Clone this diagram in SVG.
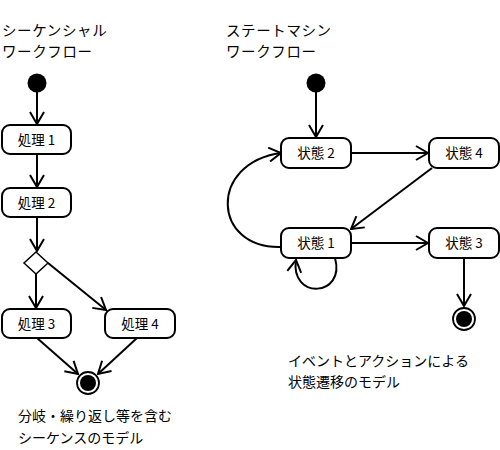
<svg xmlns="http://www.w3.org/2000/svg" width="500" height="450" viewBox="0 0 500 450">
<style>
.t{font-family:"Noto Sans CJK JP","Noto Sans",sans-serif;fill:#000}
.title{font-size:14.5px;letter-spacing:0.6px}
.cap{font-size:14px}
.lbl{font-size:13.5px;text-anchor:middle}
.box{fill:#fff;stroke:#000;stroke-width:2}
.ln{fill:none;stroke:#000;stroke-width:2;marker-end:url(#arr)}
</style>
<defs>
<marker id="arr" markerUnits="userSpaceOnUse" viewBox="0 0 14 16" refX="13" refY="8" markerWidth="14" markerHeight="16" orient="auto">
<path d="M1,1 L13,8 L1,15" fill="none" stroke="#000" stroke-width="2"/>
</marker>
</defs>
<rect width="500" height="450" fill="#fff"/>
<g id="titles">
<text class="t title" x="2" y="36">シーケンシャル</text>
<text class="t title" x="2" y="57">ワークフロー</text>
<text class="t title" x="226" y="36">ステートマシン</text>
<text class="t title" x="226" y="57">ワークフロー</text>
</g>
<g id="connectors">
<line class="ln" x1="37" y1="92" x2="37" y2="124"/>
<line class="ln" x1="37" y1="154" x2="37" y2="187"/>
<line class="ln" x1="37" y1="217" x2="37" y2="251"/>
<line class="ln" x1="36" y1="274" x2="36" y2="308"/>
<line class="ln" x1="48" y1="263" x2="106" y2="310"/>
<line class="ln" x1="37" y1="338" x2="78" y2="374"/>
<line class="ln" x1="137" y1="338" x2="98" y2="374"/>
<line class="ln" x1="316" y1="92" x2="316" y2="137"/>
<line class="ln" x1="351" y1="153" x2="428" y2="153"/>
<line class="ln" x1="432" y1="168" x2="351" y2="229"/>
<line class="ln" x1="351" y1="243" x2="428" y2="243"/>
<line class="ln" x1="464" y1="258" x2="464" y2="306"/>
<path class="ln" d="M281,247 C212,249 208,163 281,153"/>
<path class="ln" d="M335,258 C346,297 290,300 296,260"/>
</g>
<g id="start1"><circle cx="37" cy="83" r="9.5" fill="#000"/></g>
<g id="start2"><circle cx="316" cy="83" r="9.5" fill="#000"/></g>
<g id="p1"><rect class="box" x="2" y="125" width="69" height="29" rx="8"/><text class="t lbl" x="36.5" y="144.5">処理 1</text></g>
<g id="p2"><rect class="box" x="2" y="188" width="69" height="29" rx="8"/><text class="t lbl" x="36.5" y="207.5">処理 2</text></g>
<g id="decision"><polygon points="36,252 48,263 36,274 24,263" fill="#fff" stroke="#000" stroke-width="1.5"/></g>
<g id="p3"><rect class="box" x="2" y="309" width="69" height="29" rx="8"/><text class="t lbl" x="36.5" y="328.5">処理 3</text></g>
<g id="p4"><rect class="box" x="105" y="309" width="70" height="29" rx="8"/><text class="t lbl" x="140" y="328.5">処理 4</text></g>
<g id="end1"><circle cx="88" cy="383" r="11" fill="#fff" stroke="#000" stroke-width="1.8"/><circle cx="88" cy="383" r="8" fill="#000"/></g>
<g id="s2"><rect class="box" x="281" y="138" width="70" height="30" rx="8"/><text class="t lbl" x="316" y="158">状態 2</text></g>
<g id="s4"><rect class="box" x="429" y="138" width="70" height="30" rx="8"/><text class="t lbl" x="464" y="158">状態 4</text></g>
<g id="s1"><rect class="box" x="281" y="228" width="70" height="30" rx="8"/><text class="t lbl" x="316" y="248">状態 1</text></g>
<g id="s3"><rect class="box" x="429" y="228" width="70" height="30" rx="8"/><text class="t lbl" x="464" y="248">状態 3</text></g>
<g id="end2"><circle cx="464" cy="319" r="11" fill="#fff" stroke="#000" stroke-width="1.8"/><circle cx="464" cy="319" r="8" fill="#000"/></g>
<g id="captions">
<text class="t cap" x="18" y="421">分岐・繰り返し等を含む</text>
<text class="t cap" x="18" y="443">シーケンスのモデル</text>
<text class="t cap" x="288" y="366">イベントとアクションによる</text>
<text class="t cap" x="288" y="387">状態遷移のモデル</text>
</g>
</svg>
